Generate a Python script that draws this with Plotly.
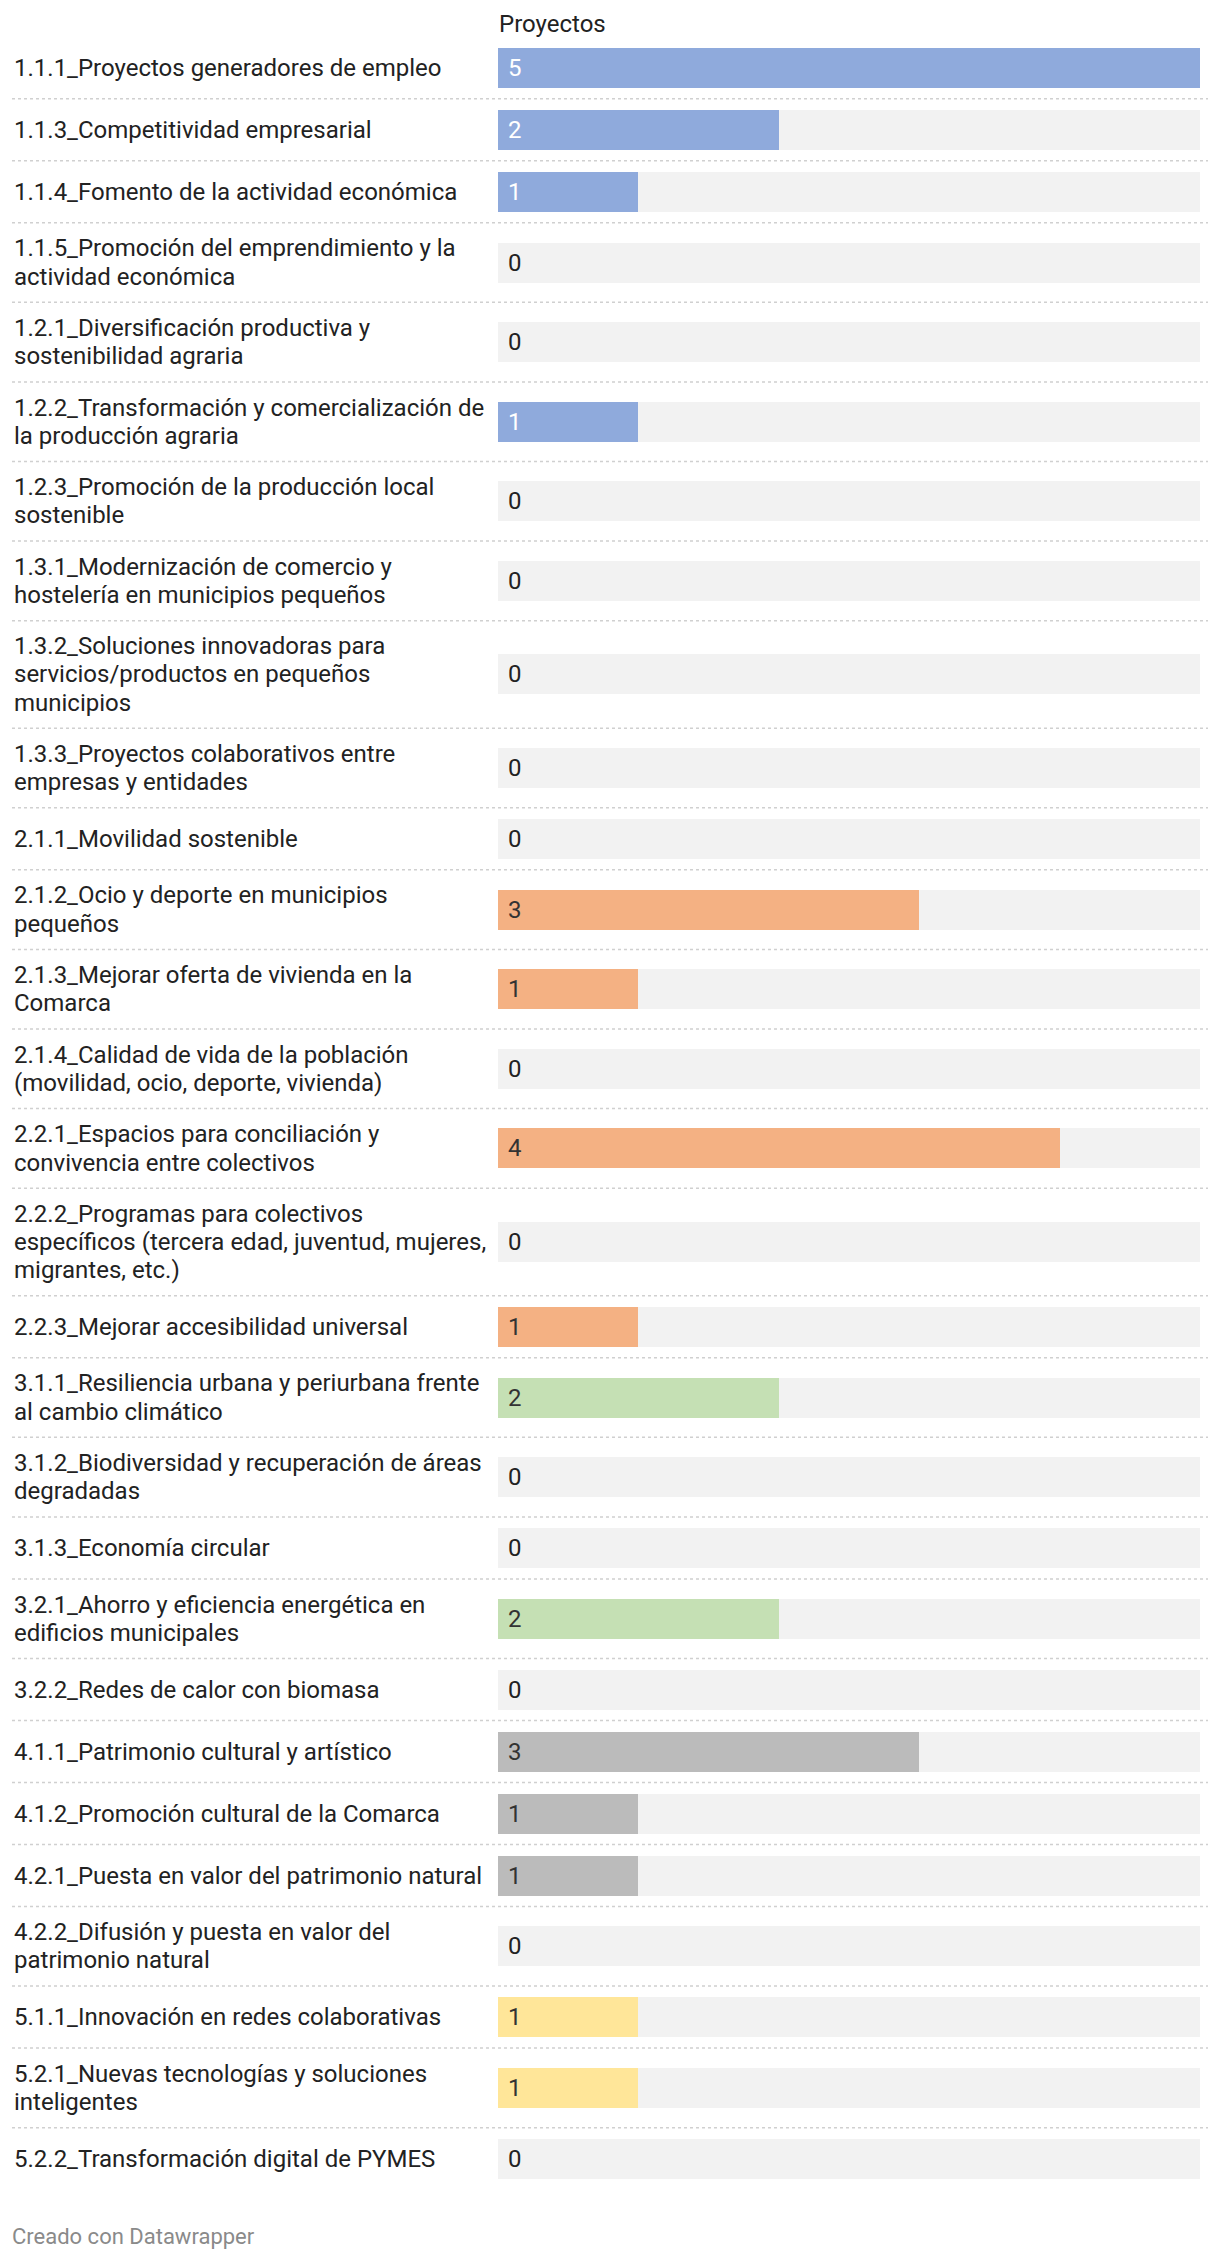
import plotly.graph_objects as go

# ---------------- data ----------------
categories = [
    "1.1.1_Proyectos generadores de empleo",
    "1.1.3_Competitividad empresarial",
    "1.1.4_Fomento de la actividad económica",
    "1.1.5_Promoción del emprendimiento y la<br>actividad económica",
    "1.2.1_Diversificación productiva y<br>sostenibilidad agraria",
    "1.2.2_Transformación y comercialización de<br>la producción agraria",
    "1.2.3_Promoción de la producción local<br>sostenible",
    "1.3.1_Modernización de comercio y<br>hostelería en municipios pequeños",
    "1.3.2_Soluciones innovadoras para<br>servicios/productos en pequeños<br>municipios",
    "1.3.3_Proyectos colaborativos entre<br>empresas y entidades",
    "2.1.1_Movilidad sostenible",
    "2.1.2_Ocio y deporte en municipios<br>pequeños",
    "2.1.3_Mejorar oferta de vivienda en la<br>Comarca",
    "2.1.4_Calidad de vida de la población<br>(movilidad, ocio, deporte, vivienda)",
    "2.2.1_Espacios para conciliación y<br>convivencia entre colectivos",
    "2.2.2_Programas para colectivos<br>específicos (tercera edad, juventud, mujeres,<br>migrantes, etc.)",
    "2.2.3_Mejorar accesibilidad universal",
    "3.1.1_Resiliencia urbana y periurbana frente<br>al cambio climático",
    "3.1.2_Biodiversidad y recuperación de áreas<br>degradadas",
    "3.1.3_Economía circular",
    "3.2.1_Ahorro y eficiencia energética en<br>edificios municipales",
    "3.2.2_Redes de calor con biomasa",
    "4.1.1_Patrimonio cultural y artístico",
    "4.1.2_Promoción cultural de la Comarca",
    "4.2.1_Puesta en valor del patrimonio natural",
    "4.2.2_Difusión y puesta en valor del<br>patrimonio natural",
    "5.1.1_Innovación en redes colaborativas",
    "5.2.1_Nuevas tecnologías y soluciones<br>inteligentes",
    "5.2.2_Transformación digital de PYMES",
]
proyectos = [5, 2, 1, 0, 0, 1, 0, 0, 0, 0,
             0, 3, 1, 0, 4, 0, 1,
             2, 0, 0, 2, 0,
             3, 1, 1, 0,
             1, 1, 0]
column_title = "Proyectos"
footer_text = "Creado con Datawrapper"

group_colors = {"1": "#8FAADC", "2": "#F4B183", "3": "#C5E0B4",
                "4": "#BBBBBB", "5": "#FFE699"}
label_colors = {"1": "#FFFFFF", "2": "#333333", "3": "#333333",
                "4": "#333333", "5": "#333333"}

# ---------------- layout constants (page body has an 8px margin) ----------------
W, H = 1220, 2258
OFF = 8
BAR_X0, BAR_X1 = 498 - OFF, 1200 - OFF
LABEL_X = 4
FONT = "Roboto, 'Open Sans', sans-serif"
FS = 24
LINE_H = 27.9
ROW_PAD = 23.8
BAR_H = 40
TOP = 36.7 - OFF
XMAX = max(proyectos)

# compute row layout from number of label lines
centers, bounds = [], []
y = TOP
for c in categories:
    n = c.count("<br>") + 1
    h = max(62.0, n * LINE_H + ROW_PAD)
    centers.append(y + h / 2)
    y += h
    bounds.append(y)
bounds = bounds[:-1]

groups = [c[0] for c in categories]

fig = go.Figure()
fig.add_trace(go.Bar(
    y=centers, x=[XMAX] * len(categories), orientation="h", width=BAR_H,
    marker=dict(color="#F2F2F2", line=dict(width=0)), hoverinfo="skip",
))
fig.add_trace(go.Bar(
    y=centers, x=proyectos, orientation="h", width=BAR_H,
    marker=dict(color=[group_colors[g] for g in groups], line=dict(width=0)),
    hoverinfo="skip",
))

annotations = []
for c, yc, v, g in zip(categories, centers, proyectos, groups):
    lines = c.split("<br>")
    n = len(lines)
    for i, ln in enumerate(lines):
        annotations.append(dict(
            x=LABEL_X / W, xref="paper", y=yc + (i - (n - 1) / 2) * 28.3, yref="y",
            text=ln, showarrow=False, xanchor="left", yanchor="middle",
            font=dict(family=FONT, size=FS, color="#222222"),
        ))
    annotations.append(dict(
        x=0, xref="x", y=yc, yref="y", text=str(v), showarrow=False,
        xanchor="left", yanchor="middle", xshift=8,
        font=dict(family=FONT, size=FS,
                  color=label_colors[g] if v > 0 else "#222222"),
    ))

annotations.append(dict(
    x=(499 - OFF - 2) / W, xref="paper", y=24 - OFF, yref="y", text=column_title,
    showarrow=False, xanchor="left", yanchor="middle",
    font=dict(family=FONT, size=FS, color="#222222"),
))
annotations.append(dict(
    x=2 / W, xref="paper", y=2236 - OFF, yref="y", text=footer_text, showarrow=False,
    xanchor="left", yanchor="middle", font=dict(family=FONT, size=22, color="#8A8A8A"),
))

shapes = [dict(type="line", xref="paper", yref="y", x0=(12 - OFF) / W, x1=(1208 - OFF) / W,
               y0=b, y1=b, line=dict(color="#D0D0D0", width=1.5, dash="dot"))
          for b in bounds]

fig.update_layout(
    width=W, height=H, margin=dict(l=0, r=0, t=0, b=0),
    paper_bgcolor="white", plot_bgcolor="white",
    barmode="overlay", showlegend=False, bargap=0,
    xaxis=dict(domain=[BAR_X0 / W, BAR_X1 / W], range=[0, XMAX], visible=False, fixedrange=True),
    yaxis=dict(domain=[0, 1], range=[H, 0], visible=False, fixedrange=True),
    annotations=annotations, shapes=shapes, hovermode=False,
)

fig.write_html("out.html", config={"displayModeBar": False})
